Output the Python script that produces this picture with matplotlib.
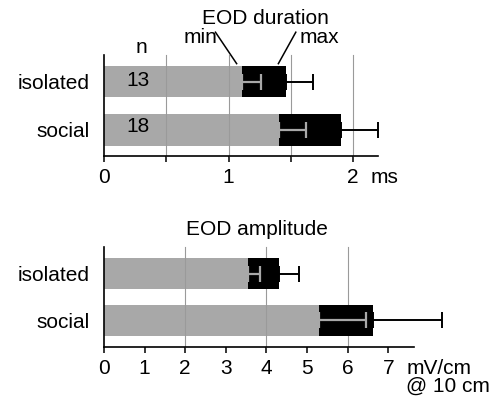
import numpy as np
import matplotlib
matplotlib.use("Agg")
import matplotlib.pyplot as plt
import matplotlib.transforms as mtransforms

plt.rcParams["font.family"] = ["Liberation Sans", "DejaVu Sans"]
plt.rcParams["font.size"] = 15

# data
groups = ["isolated", "social"]
group_n = [13, 18]

# EOD duration (ms): mean min / max duration, one-sided SD
dur_min = [1.11, 1.405]
dur_min_sd = [0.15, 0.215]
dur_max = [1.46, 1.90]
dur_max_sd = [0.22, 0.30]

# EOD amplitude (mV/cm @ 10 cm)
amp_min = [3.54, 5.30]
amp_min_sd = [0.30, 1.14]
amp_max = [4.32, 6.63]
amp_max_sd = [0.49, 1.69]

GRAY = "#a8a8a8"
GRID = "#9a9a9a"
TICKLEN = 4.5
TICKPAD = 4.5


def draw_panel(ax, vmin, vmin_sd, vmax, vmax_sd, xlim, ylim, grid_x, major, minor):
    pos = np.array([1, 0])  # isolated on top
    h = 0.66
    ax.barh(pos, vmin, height=h, color=GRAY, zorder=1)
    for gx in grid_x:
        ax.axvline(gx, color=GRID, lw=0.8, zorder=2)
    ax.barh(pos, np.array(vmax) - np.array(vmin), left=vmin, height=h,
            color="black", zorder=3)
    ax.errorbar(vmin, pos, xerr=[np.zeros(2), vmin_sd], fmt="none",
                ecolor=GRAY, elinewidth=1.6, capsize=5.5, capthick=1.6, zorder=4)
    ax.errorbar(vmax, pos, xerr=[np.zeros(2), vmax_sd], fmt="none",
                ecolor="black", elinewidth=1.4, capsize=5.5, capthick=1.4,
                zorder=4)
    ax.set_xlim(*xlim)
    ax.set_ylim(*ylim)
    ax.set_yticks(pos)
    ax.set_yticklabels(groups)
    ax.tick_params(axis="y", length=0, pad=10)
    ax.set_xticks(major)
    ax.set_xticks(minor, minor=True)
    ax.tick_params(axis="x", which="both", direction="out", length=TICKLEN,
                   width=1.1, pad=TICKPAD)
    for s in ["top", "right"]:
        ax.spines[s].set_visible(False)
    for s in ["left", "bottom"]:
        ax.spines[s].set_linewidth(1.2)
    # error bars run past the axis end
    for line in ax.lines:
        line.set_clip_on(False)
    for coll in ax.collections:
        coll.set_clip_on(False)


def unit_label(ax, x, text, ha, **kw):
    tr = mtransforms.blended_transform_factory(ax.transData, ax.transAxes)
    ax.annotate(text, xy=(x, 0), xycoords=tr,
                xytext=(0, -(TICKLEN + TICKPAD)), textcoords="offset points",
                ha=ha, va="top", annotation_clip=False, **kw)


fig = plt.figure(figsize=(4.94, 4.01), dpi=100)

# top: EOD duration
ax1 = fig.add_axes([0.2105, 0.611, 0.5547, 0.252])
draw_panel(ax1, dur_min, dur_min_sd, dur_max, dur_max_sd,
           (0, 2.2), (-0.54, 1.55), [0.5, 1.0, 1.5, 2.0],
           [0, 1, 2], [0.5, 1.5])

for p, n in zip([1, 0], group_n):
    ax1.text(0.274, p + (0.03 if p == 1 else 0.06), str(n),
             ha="center", va="center", zorder=5)
ax1.text(0.304, 1.585, "n", ha="center", va="baseline", clip_on=False)
ax1.text(0.772, 1.79, "min", ha="center", va="baseline", clip_on=False)
ax1.text(1.726, 1.79, "max", ha="center", va="baseline", clip_on=False)
ax1.text(1.298, 2.19, "EOD duration", ha="center", va="baseline", clip_on=False)
ax1.plot([0.895, dur_min[0] - 0.045], [2.02, 1.37], color="black", lw=1.1,
         clip_on=False)
ax1.plot([1.54, dur_max[0] - 0.06], [2.02, 1.37], color="black", lw=1.1,
         clip_on=False)
unit_label(ax1, 2.25, "ms", "center")

# bottom: EOD amplitude
ax2 = fig.add_axes([0.2105, 0.1354, 0.6275, 0.2494])
draw_panel(ax2, amp_min, amp_min_sd, amp_max, amp_max_sd,
           (0, 7.63), (-0.567, 1.574), [2, 4, 6],
           [0, 1, 2, 3, 4, 5, 6, 7], [])
ax2.text(3.76, 1.825, "EOD amplitude", ha="center", va="baseline", clip_on=False)
unit_label(ax2, 7.44, "mV/cm\n@ 10 cm", "left", linespacing=0.9)

fig.savefig("out.png", dpi=100)
